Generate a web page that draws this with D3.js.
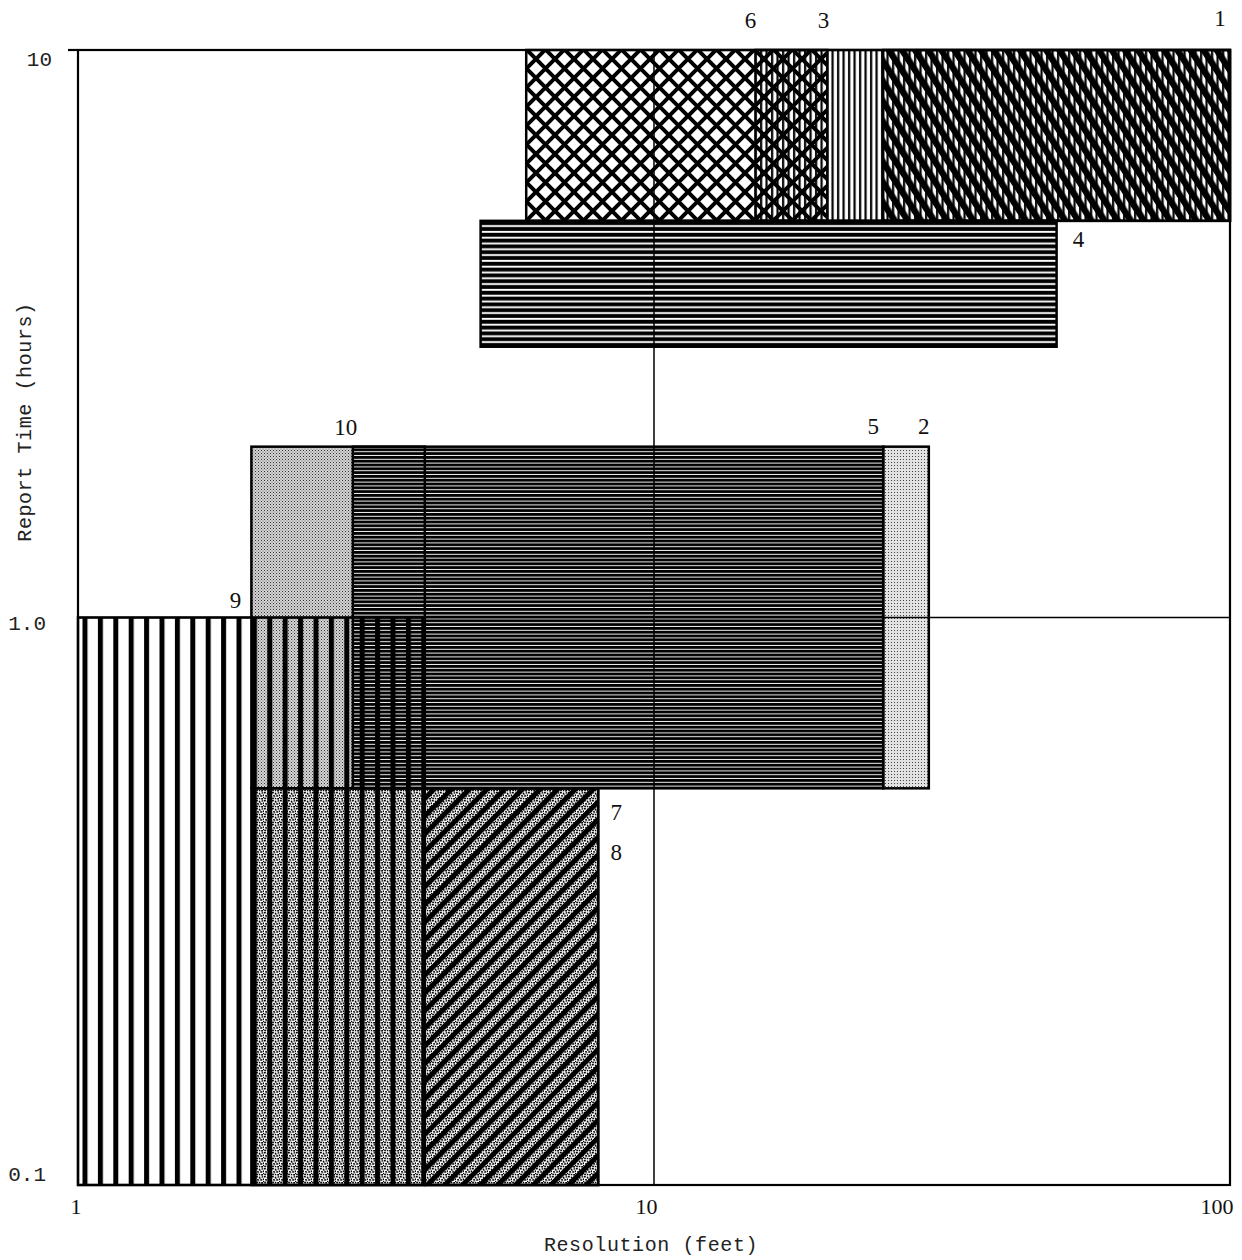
<!DOCTYPE html>
<html>
<head>
<meta charset="utf-8">
<script src="https://cdn.jsdelivr.net/npm/d3@7"></script>
<style>
body { margin: 0; background: #fff; }
text { font-family: "Liberation Serif", "DejaVu Serif", serif; fill: #111; }
.mono { font-family: "Liberation Mono", "DejaVu Sans Mono", monospace; fill: #222; }
</style>
</head>
<body>
<svg id="chart" width="1242" height="1260"></svg>
<script>
// coverage boxes: resolution (feet) x report time (hours), drawn in this order
var boxIds  = ["4", "6", "3", "1", "2", "10", "5", "8", "7", "9"];
var resMin  = [5,   6,   15,  25,  25,  2,    3,   2,   4,   1];
var resMax  = [50,  20,  100, 100, 30,  4,    25,  8,   8,   4];
var timeMin = [3,   5,   5,   5,   0.5, 0.5,  0.5, 0.1, 0.1, 0.1];
var timeMax = [5,   10,  10,  10,  2,   2,    2,   0.5, 0.5, 1];

// system number labels, anchored at a corner (data coords)
var labelIds  = ["6", "3", "1", "4", "10", "5", "2", "9", "7", "8"];
var labelRes  = [15,  20,  100, 50,  3,    25,  30,  2,   8,   8];
var labelTime = [10,  10,  10,  5,   2,    2,   2,   1,   0.5, 0.5];

var xTicks = [1, 10, 100];
var xTickLabels = ["1", "10", "100"];
var yTicks = [0.1, 1, 10];
var yTickLabels = ["0.1", "1.0", "10"];

var svg = d3.select("#chart");
var x = d3.scaleLog().domain([1, 100]).range([78, 1230]);
var y = d3.scaleLog().domain([0.1, 10]).range([1185, 50]);

// --- hatch patterns ---
var defs = svg.append("defs");
function pat(id, w, h, attrs) {
  var p = defs.append("pattern").attr("id", id)
    .attr("patternUnits", "userSpaceOnUse")
    .attr("width", w).attr("height", h);
  for (var k in (attrs || {})) p.attr(k, attrs[k]);
  return p;
}
// horizontal lines (4)
var p = pat("hlines", 10, 5.8);
p.append("rect").attr("width", 10).attr("height", 5.8).attr("fill", "#fff");
p.append("rect").attr("y", 0.8).attr("width", 10).attr("height", 3.9).attr("fill", "#000");
// coarse crosshatch (6)
p = pat("cross", 19, 19, {x: 4, y: 2});
p.append("rect").attr("width", 19).attr("height", 19).attr("fill", "#fff");
p.append("path").attr("d", "M-1,-1L20,20M20,-1L-1,20")
  .attr("stroke", "#000").attr("stroke-width", 4);
// fine vertical lines (3) - transparent so crosshatch shows under it
p = pat("vfine", 5.5, 10);
p.append("rect").attr("x", 1).attr("width", 2.2).attr("height", 10).attr("fill", "#000");
// steep "\" bands (1)
p = pat("diag", 11, 20, {patternTransform: "rotate(-33)"});
p.append("rect").attr("width", 6.5).attr("height", 20).attr("fill", "#000");
// light stipple (2)
p = pat("stipLight", 3, 3);
p.append("rect").attr("width", 3).attr("height", 3).attr("fill", "#e2e2e2");
p.append("rect").attr("width", 1).attr("height", 1).attr("fill", "#444");
// gray stipple (10)
p = pat("stipGray", 3, 3);
p.append("rect").attr("width", 3).attr("height", 3).attr("fill", "#d4d4d4");
p.append("rect").attr("width", 1).attr("height", 1).attr("fill", "#333");
p.append("rect").attr("x", 1.5).attr("y", 1.5).attr("width", 1).attr("height", 1).attr("fill", "#666");
// dense wavy horizontal lines (5)
p = pat("waves", 4, 3.8);
p.append("rect").attr("width", 4).attr("height", 3.8).attr("fill", "#fff");
p.append("path").attr("d", "M0,0H4V2.6L3,3.2L2,2.6L1,3.2L0,2.6Z").attr("fill", "#000");
// speckle (8)
p = pat("speckle", 8, 8);
p.append("rect").attr("width", 8).attr("height", 8).attr("fill", "#fff");
[[0,0,1.8,1.5],[2.8,0.6,1.3,2],[5.6,0.2,1.7,1.4],[1.2,3,1.6,1.6],[4.2,3.2,2,1.5],
 [6.8,2.4,1.2,1.8],[0.2,5.6,1.7,1.7],[2.8,5.9,1.5,1.4],[5.2,6,1.8,1.6],[4.2,1.6,1,1],
 [2.4,4.4,0.9,1],[7,5,1,1.2]]
  .forEach(function(d) {
    p.append("rect").attr("x", d[0]).attr("y", d[1]).attr("width", d[2]).attr("height", d[3]).attr("fill", "#000");
  });
// "/" diagonal bands (7)
p = pat("diag2", 12.5, 20, {patternTransform: "rotate(45)"});
p.append("rect").attr("width", 5).attr("height", 20).attr("fill", "#000");
// thick vertical bars (9)
p = pat("vthick", 15.4, 10, {x: x(1) + 4.5});
p.append("rect").attr("width", 5).attr("height", 10).attr("fill", "#000");

var patternFor = {"4": "hlines", "6": "cross", "3": "vfine", "1": "diag", "2": "stipLight",
  "10": "stipGray", "5": "waves", "8": "speckle", "7": "diag2", "9": "vthick"};

var boxes = boxIds.map(function(id, i) {
  return {id: id, r0: resMin[i], r1: resMax[i], t0: timeMin[i], t1: timeMax[i]};
});

// fills
svg.append("g").selectAll("rect").data(boxes).enter().append("rect")
  .attr("x", function(d) { return x(d.r0); })
  .attr("y", function(d) { return y(d.t1); })
  .attr("width", function(d) { return x(d.r1) - x(d.r0); })
  .attr("height", function(d) { return y(d.t0) - y(d.t1); })
  .attr("fill", function(d) { return "url(#" + patternFor[d.id] + ")"; });

// grid lines at 10 ft and 1 hour
svg.append("line").attr("x1", x(10)).attr("x2", x(10)).attr("y1", y(10)).attr("y2", y(0.1))
  .attr("stroke", "#000").attr("stroke-width", 1.5);
svg.append("line").attr("x1", x(1)).attr("x2", x(100)).attr("y1", y(1)).attr("y2", y(1))
  .attr("stroke", "#000").attr("stroke-width", 1.5);

// outlines
svg.append("g").selectAll("rect").data(boxes).enter().append("rect")
  .attr("x", function(d) { return x(d.r0); })
  .attr("y", function(d) { return y(d.t1); })
  .attr("width", function(d) { return x(d.r1) - x(d.r0); })
  .attr("height", function(d) { return y(d.t0) - y(d.t1); })
  .attr("fill", "none").attr("stroke", "#000").attr("stroke-width", 2.5);

// frame
svg.append("rect").attr("x", x(1)).attr("y", y(10))
  .attr("width", x(100) - x(1)).attr("height", y(0.1) - y(10))
  .attr("fill", "none").attr("stroke", "#000").attr("stroke-width", 2.2);
svg.append("line").attr("x1", x(1) - 10).attr("x2", x(1)).attr("y1", y(10)).attr("y2", y(10))
  .attr("stroke", "#000").attr("stroke-width", 2.2);

// axes
var xAxis = d3.axisBottom(x).tickValues(xTicks).tickSize(0).tickPadding(13)
  .tickFormat(function(d, i) { return xTickLabels[i]; });
var gx = svg.append("g").attr("transform", "translate(0," + y(0.1) + ")").call(xAxis);
gx.select(".domain").remove();
gx.selectAll("text").attr("font-size", 22).attr("text-anchor", "end").attr("dx", 3)
  .style("font-family", "'Liberation Serif', serif");

var yAxis = d3.axisLeft(y).tickValues(yTicks).tickSize(0).tickPadding(32)
  .tickFormat(function(d, i) { return yTickLabels[i]; });
var gy = svg.append("g").attr("transform", "translate(" + x(1) + ",0)").call(yAxis);
gy.select(".domain").remove();
gy.selectAll("text").attr("class", "mono").attr("font-size", 21)
  .attr("dy", function(d) { return d === 10 ? "0.75em" : d === 1 ? "0.58em" : "-0.2em"; })
  .attr("dx", function(d) { return d === 10 ? 6 : 0; });

// axis titles
svg.append("text").attr("class", "mono").attr("font-size", 20)
  .attr("transform", "translate(31,422) rotate(-90)").attr("text-anchor", "middle")
  .attr("letter-spacing", 0.6).text("Report Time (hours)");
svg.append("text").attr("class", "mono").attr("font-size", 20)
  .attr("x", 651).attr("y", 1251).attr("text-anchor", "middle")
  .attr("letter-spacing", 0.6).text("Resolution (feet)");

// system numbers
var labelOffset = {"6": [-5, -22], "3": [-4, -22], "1": [-10, -24], "4": [22, 26],
  "10": [-7, -12], "5": [-10, -13], "2": [-5, -13], "9": [-16, -10], "7": [18, 32], "8": [18, 72]};
svg.append("g").selectAll("text").data(labelIds).enter().append("text")
  .attr("x", function(d, i) { return x(labelRes[i]) + labelOffset[d][0]; })
  .attr("y", function(d, i) { return y(labelTime[i]) + labelOffset[d][1]; })
  .attr("text-anchor", "middle").attr("font-size", 23)
  .text(function(d) { return d; });
</script>
</body>
</html>
